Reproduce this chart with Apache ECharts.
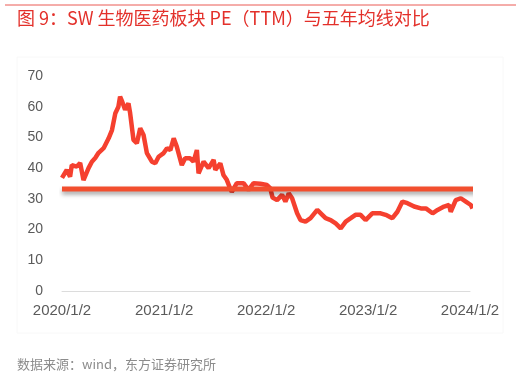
<!DOCTYPE html>
<html><head><meta charset="utf-8">
<script src="https://cdn.jsdelivr.net/npm/echarts@6/dist/echarts.min.js"></script>
<style>html,body{margin:0;padding:0;background:#fff}#c{width:521px;height:381px}</style>
</head><body><div id="c"></div>
<script>
var titleText = '图 9：SW 生物医药板块 PE（TTM）与五年均线对比';
var sourceText = '数据来源：wind，东方证券研究所';
var xTickLabels = ['2020/1/2','2021/1/2','2022/1/2','2023/1/2','2024/1/2'];
var peDates = ['2020-01-02','2020-01-19','2020-01-31','2020-02-06','2020-02-24','2020-03-07','2020-03-19','2020-04-06','2020-04-18','2020-04-30','2020-05-12','2020-05-30','2020-06-17','2020-06-29','2020-07-11','2020-07-22','2020-07-28','2020-08-03','2020-08-15','2020-08-27','2020-09-02','2020-09-14','2020-09-26','2020-10-08','2020-10-20','2020-11-01','2020-11-19','2020-12-01','2020-12-13','2020-12-31','2021-01-12','2021-01-24','2021-02-05','2021-02-16','2021-03-06','2021-03-18','2021-04-05','2021-04-17','2021-04-29','2021-05-05','2021-05-23','2021-06-10','2021-06-28','2021-07-04','2021-07-22','2021-08-02','2021-08-14','2021-08-26','2021-09-01','2021-09-19','2021-10-13','2021-10-31','2021-11-18','2021-12-12','2022-01-05','2022-01-17','2022-01-25','2022-02-10','2022-02-28','2022-03-12','2022-03-24','2022-04-05','2022-04-23','2022-05-05','2022-05-23','2022-06-10','2022-07-04','2022-07-22','2022-08-03','2022-08-21','2022-09-08','2022-09-26','2022-10-14','2022-11-01','2022-11-18','2022-12-06','2022-12-24','2023-01-17','2023-02-16','2023-03-06','2023-03-30','2023-04-17','2023-05-05','2023-05-23','2023-06-16','2023-07-10','2023-07-28','2023-08-21','2023-09-08','2023-10-01','2023-10-19','2023-10-25','2023-11-12','2023-11-30','2023-12-18','2024-01-05','2024-01-11'];
var peValues = [36.8,39.4,37.2,41.0,40.5,41.7,36.1,40.0,42.1,43.3,45.0,46.5,49.7,52.4,57.9,60.0,63.3,62.0,59.0,61.1,57.9,49.2,48.1,53.0,50.8,44.9,42.1,41.6,43.7,44.9,46.5,45.9,49.7,47.0,41.0,43.2,43.2,42.1,45.9,38.3,42.1,40.0,42.7,39.4,41.6,37.8,36.2,33.4,32.3,35.1,35.1,32.9,35.1,34.9,34.5,33.4,30.4,29.6,31.3,29.1,31.8,30.2,25.3,23.1,22.6,23.7,26.4,24.8,23.7,23.1,22.0,20.4,22.6,23.7,24.8,24.8,23.1,25.3,25.3,24.8,23.7,25.8,29.1,28.6,27.5,26.9,26.9,25.3,26.4,27.5,28.0,25.8,29.6,30.2,29.1,28.0,26.9];
var meanDates = ['2020-01-02','2024-02-28'];
var meanValue = 33.2;

function toTime(s){var p=s.split(/[-\/]/);return Date.UTC(+p[0], +p[1]-1, +p[2]);}
var chart = echarts.init(document.getElementById('c'), null, {renderer:'canvas'});
var peData = peDates.map(function(d,i){return [toTime(d), peValues[i]];});
var meanData = meanDates.map(function(d){return [toTime(d), meanValue];});
var tickTimes = xTickLabels.map(toTime);
var font = 'Liberation Sans, Arial, Helvetica, sans-serif';
chart.setOption({
  animation:false,
  backgroundColor:'#fff',
  graphic:[
    {type:'line', shape:{x1:5,y1:5,x2:516,y2:5}, style:{stroke:'#ea5a55', lineWidth:1}},
    {type:'rect', shape:{x:17,y:57,width:486,height:276}, style:{fill:'none', stroke:'#f8f8f8', lineWidth:1}},
    {type:'text', left:17, top:9, style:{text:titleText, fill:'#e3302a', font:'normal 18px "Noto Sans CJK SC", sans-serif'}},
    {type:'text', left:17, top:358, style:{text:sourceText, fill:'#8c8c8c', font:'13px "Noto Sans CJK SC", sans-serif'}}
  ],
  grid:{left:62, right:51, top:76, bottom:90, containLabel:false},
  xAxis:{
    type:'value',
    min:tickTimes[0], max:tickTimes[tickTimes.length-1],
    axisLine:{show:true, lineStyle:{color:'#dcdcdc', width:1}},
    axisTick:{show:false},
    splitLine:{show:false},
    axisLabel:{
      color:'#5a5a5a', fontSize:15, fontFamily:font, margin:12,
      customValues: tickTimes,
      formatter:function(v){
        var best=0, bd=Infinity;
        for(var i=0;i<tickTimes.length;i++){var d=Math.abs(tickTimes[i]-v); if(d<bd){bd=d;best=i;}}
        return xTickLabels[best];
      }
    }
  },
  yAxis:{
    type:'value', min:0, max:70, interval:10,
    axisLine:{show:false}, axisTick:{show:false}, splitLine:{show:false},
    axisLabel:{color:'#5a5a5a', fontSize:14, fontFamily:font, margin:19}
  },
  series:[
    {type:'line', data:meanData, showSymbol:false, clip:false, z:3,
     lineStyle:{color:'#f24e2e', width:5, shadowColor:'rgba(0,0,0,0.35)', shadowBlur:4, shadowOffsetY:3}},
    {type:'line', data:peData, showSymbol:false, clip:false, z:2,
     lineStyle:{color:'#f5402f', width:4.5}}
  ]
});
</script></body></html>
